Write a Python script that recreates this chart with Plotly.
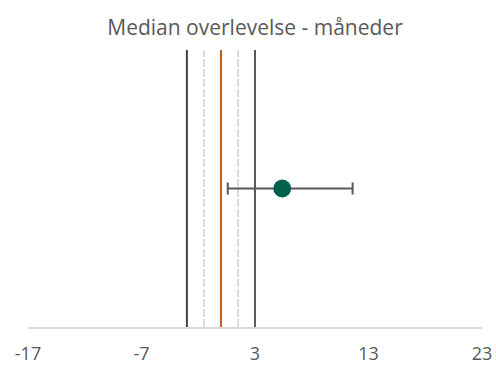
import plotly.graph_objects as go

# Reference lines (x position) and their styles
ref_x = [-3, -1.5, 0, 1.5, 3]
ref_colors = ["#404040", "#DCDCDC", "#C55A11", "#DCDCDC", "#595959"]
ref_dash = ["solid", "8px,2px", "solid", "8px,2px", "solid"]

# Estimate with confidence interval
estimate = [5.4]
ci_low = [0.6]
ci_high = [11.6]
est_y = [0.5]

tick_vals = [-17, -7, 3, 13, 23]
tick_text = [str(v) for v in tick_vals]

fig = go.Figure()

for x, c, d in zip(ref_x, ref_colors, ref_dash):
    fig.add_trace(go.Scatter(
        x=[x, x], y=[0, 1], mode="lines",
        line=dict(color=c, width=2, dash=d),
        hoverinfo="skip", showlegend=False,
    ))

fig.add_trace(go.Scatter(
    x=estimate, y=est_y, mode="markers",
    marker=dict(color="#00614F", size=18),
    error_x=dict(
        type="data", symmetric=False,
        array=[h - e for h, e in zip(ci_high, estimate)],
        arrayminus=[e - l for e, l in zip(estimate, ci_low)],
        color="#595959", thickness=2, width=6,
    ),
    showlegend=False,
))

fig.update_layout(
    width=496, height=370,
    margin=dict(l=28, r=14, t=50, b=43, autoexpand=False),
    paper_bgcolor="white", plot_bgcolor="white",
    title=dict(
        text="Median overlevelse - måneder",
        xref="paper", x=0.5, xanchor="center",
        y=1 - 28 / 370, yanchor="middle",
        font=dict(family="Open Sans", size=21, color="#595959"),
    ),
    xaxis=dict(
        range=[-17, 23], tickvals=tick_vals, ticktext=tick_text,
        automargin=False,
        showgrid=False, zeroline=False,
        showline=True, linecolor="#D9D9D9", linewidth=2,
        ticks="", ticklabelstandoff=9,
        tickfont=dict(family="Open Sans", size=18, color="#595959"),
    ),
    yaxis=dict(
        range=[0, 1], visible=False, showgrid=False, zeroline=False,
        automargin=False,
    ),
)

fig.write_html("out.html")
